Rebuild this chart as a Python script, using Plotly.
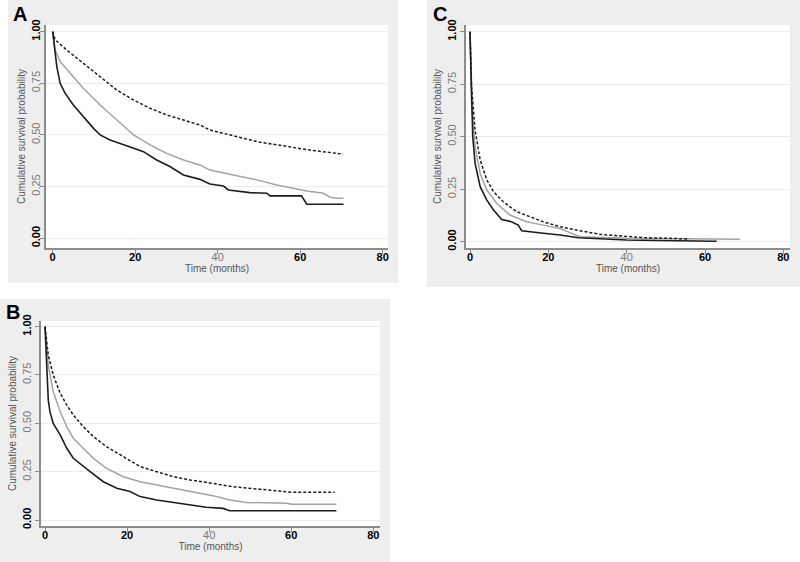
import plotly.graph_objects as go

# Panel A: Kaplan-Meier curves (time in months, cumulative survival)
a_time_black = [0, 0.3, 0.6, 1, 1.8, 3, 5, 7.4, 9.9, 11.5, 13.9, 16.7, 19.6, 22, 25.2, 28.4,
                31.7, 35.7, 38.1, 41.4, 42.6, 47.8, 51.9, 52.7, 60.3, 61.6, 70.5]
a_surv_black = [1.0, 0.95, 0.895, 0.831, 0.75, 0.702, 0.645, 0.589, 0.532, 0.5, 0.476, 0.456,
                0.435, 0.419, 0.379, 0.347, 0.306, 0.285, 0.263, 0.253, 0.234, 0.221, 0.218,
                0.205, 0.205, 0.165, 0.165]
a_time_gray = [0, 0.3, 0.6, 1.8, 4.2, 7.4, 11.5, 15.5, 19.6, 23.6, 27.6, 31.7, 35.7, 38.1,
               42.2, 46.2, 50.3, 54.3, 58.4, 61.6, 65.6, 67.3, 68.9, 70.5]
a_surv_gray = [1.0, 0.95, 0.911, 0.855, 0.798, 0.726, 0.645, 0.573, 0.5, 0.452, 0.411, 0.379,
               0.355, 0.33, 0.314, 0.298, 0.279, 0.258, 0.242, 0.229, 0.218, 0.199, 0.194, 0.194]
a_time_dash = [0, 0.6, 3.4, 7.4, 11.5, 15.5, 19.6, 23.6, 27.6, 31.7, 35.7, 38.1, 40.6, 46.2,
               50, 54.3, 58, 62.3, 66, 70.4]
a_surv_dash = [1.0, 0.96, 0.911, 0.847, 0.782, 0.718, 0.669, 0.629, 0.597, 0.573, 0.548, 0.524,
               0.511, 0.484, 0.466, 0.452, 0.44, 0.427, 0.418, 0.407]

# Panel B
b_time_black = [0, 0.4, 0.8, 1.2, 2, 3.7, 5.3, 6.9, 9.3, 11, 14.2, 17.5, 20.7, 23.2, 27.2,
                31.3, 35.3, 37.8, 39.3, 43.4, 45, 71]
b_surv_black = [1.0, 0.82, 0.62, 0.56, 0.5, 0.44, 0.371, 0.319, 0.276, 0.25, 0.198, 0.164,
                0.147, 0.121, 0.103, 0.09, 0.078, 0.072, 0.066, 0.06, 0.048, 0.048]
b_time_gray = [0, 0.4, 0.8, 2, 3.7, 5.3, 6.9, 9.3, 11.8, 15, 19.1, 23.2, 27.2, 31.3, 35.3,
               37.7, 41.8, 45, 49.1, 58.8, 60.1, 71]
b_surv_gray = [1.0, 0.88, 0.80, 0.664, 0.56, 0.483, 0.422, 0.371, 0.319, 0.267, 0.224, 0.198,
               0.181, 0.164, 0.15, 0.138, 0.121, 0.103, 0.091, 0.086, 0.081, 0.081]
b_time_dash = [0, 0.8, 2, 3.7, 5.3, 6.9, 9.3, 11.8, 15, 19.1, 23.2, 27.2, 31.3, 35.3, 37.7,
               41.8, 45.8, 49.9, 54, 59.7, 60.5, 70.6]
b_surv_dash = [1.0, 0.853, 0.75, 0.655, 0.595, 0.543, 0.483, 0.431, 0.379, 0.328, 0.276, 0.25,
               0.224, 0.207, 0.198, 0.186, 0.172, 0.164, 0.159, 0.147, 0.143, 0.143]

# Panel C
c_time_black = [0, 0.3, 0.7, 1.3, 2.6, 4.3, 6, 8.1, 10.6, 12.3, 13.2, 18.7, 23, 27.7, 33.9,
                40, 48, 55, 60, 63]
c_surv_black = [1.0, 0.75, 0.5, 0.373, 0.262, 0.198, 0.151, 0.106, 0.095, 0.079, 0.052, 0.04,
                0.032, 0.019, 0.014, 0.008, 0.006, 0.004, 0.003, 0.002]
c_time_gray = [0, 0.4, 1.3, 2.6, 4.3, 6.8, 10.2, 14.5, 18.7, 23, 25.5, 28.1, 40, 55, 68.9]
c_surv_gray = [1.0, 0.659, 0.452, 0.325, 0.246, 0.183, 0.127, 0.095, 0.079, 0.063, 0.043,
               0.024, 0.016, 0.013, 0.012]
c_time_dash = [0, 0.4, 1.3, 2.6, 4.3, 6, 8.5, 11.9, 15.3, 18.7, 23, 26.4, 28.1, 33.2, 44.3,
               50.9, 56]
c_surv_dash = [1.0, 0.738, 0.532, 0.389, 0.294, 0.238, 0.19, 0.143, 0.119, 0.095, 0.071,
               0.056, 0.052, 0.035, 0.019, 0.016, 0.013]

x_ticks = [0, 20, 40, 60, 80]
x_tick_labels = ["<b>0</b>", "<b>20</b>", "<span style='color:#7a7a7a'>40</span>",
                 "<b>60</b>", "<b>80</b>"]
y_ticks = [0, 0.25, 0.5, 0.75, 1.0]
y_tick_labels = ["<b>0.00</b>", "<span style='color:#7a7a7a'>0.25</span>",
                 "<span style='color:#7a7a7a'>0.50</span>",
                 "<span style='color:#7a7a7a'>0.75</span>", "<b>1.00</b>"]
panel_labels = ["A", "B", "C"]

W, H = 800, 562
FONT = "Liberation Sans, Arial, sans-serif"
AXIS_GRAY = "#8c8c8c"


def px(x):
    return x / W


def py(y):
    return 1 - y / H


def x_axis(domain, rng, anchor):
    return dict(domain=domain, range=rng, anchor=anchor, tickvals=x_ticks, ticktext=x_tick_labels,
                automargin=False, showline=True, linecolor=AXIS_GRAY, linewidth=1.5,
                ticks="outside", ticklen=4, tickcolor=AXIS_GRAY, showgrid=False, zeroline=False,
                ticklabelstandoff=-6,
                tickfont=dict(family=FONT, size=11, color="black"),
                title=dict(text="Time (months)", font=dict(family=FONT, size=10, color="#555555"),
                           standoff=1))


def y_axis(domain, rng, anchor, label_shift):
    return dict(domain=domain, range=rng, anchor=anchor, tickvals=y_ticks, ticktext=y_tick_labels,
                automargin=False, tickangle=-90, showline=True, linecolor=AXIS_GRAY, linewidth=1.5,
                ticks="outside", ticklen=4, tickcolor=AXIS_GRAY, showgrid=True,
                gridcolor="#ececec", gridwidth=1, zeroline=False,
                ticklabelstandoff=label_shift,
                tickfont=dict(family=FONT, size=11, color="black"),
                title=dict(text="Cumulative survival probability",
                           font=dict(family=FONT, size=10, color="#555555"), standoff=2))


fig = go.Figure()

panels = [
    ("x", "y", a_time_gray, a_surv_gray, a_time_black, a_surv_black, a_time_dash, a_surv_dash),
    ("x3", "y3", b_time_gray, b_surv_gray, b_time_black, b_surv_black, b_time_dash, b_surv_dash),
    ("x2", "y2", c_time_gray, c_surv_gray, c_time_black, c_surv_black, c_time_dash, c_surv_dash),
]
for xa, ya, tg, sg, tb, sb, td, sd in panels:
    fig.add_trace(go.Scatter(x=tg, y=sg, mode="lines", xaxis=xa, yaxis=ya, showlegend=False,
                             line=dict(color="#a3a3a3", width=1.5)))
    fig.add_trace(go.Scatter(x=tb, y=sb, mode="lines", xaxis=xa, yaxis=ya, showlegend=False,
                             line=dict(color="#1c1c1c", width=1.6)))
    fig.add_trace(go.Scatter(x=td, y=sd, mode="lines", xaxis=xa, yaxis=ya, showlegend=False,
                             line=dict(color="#1c1c1c", width=1.5, dash="3px,2px")))

# light gray panel backgrounds, then white plot regions on top of them
panel_boxes = [(8, 0, 398, 283), (427, 0, 800, 287), (0, 299, 390, 562)]
plot_boxes = [(46, 25, 388, 248), (466, 25, 790, 248), (41, 321, 380, 526)]
shapes = []
for boxes, fill in [(panel_boxes, "#eeeeee"), (plot_boxes, "white")]:
    for x0, y0, x1, y1 in boxes:
        shapes.append(dict(type="rect", xref="paper", yref="paper", x0=px(x0), x1=px(x1),
                           y0=py(y1), y1=py(y0), fillcolor=fill, line=dict(width=0),
                           layer="below"))

annotations = []
for label, lx, ly in zip(panel_labels, [11, 4, 431], [1, 299, 1]):
    annotations.append(dict(text="<b>%s</b>" % label, xref="paper", yref="paper", x=px(lx),
                            y=py(ly), xanchor="left", yanchor="top", showarrow=False,
                            font=dict(family=FONT, size=20, color="black")))

fig.update_layout(
    width=W, height=H,
    margin=dict(l=0, r=0, t=0, b=0, autoexpand=False),
    paper_bgcolor="white", plot_bgcolor="white",
    xaxis=x_axis([px(46), px(388)], [-1.62, 81.28], "y"),
    yaxis=y_axis([py(248), py(25)], [-0.047, 1.032], "x", -4),
    xaxis2=x_axis([px(466), px(790)], [-1.02, 81.7], "y2"),
    yaxis2=y_axis([py(248), py(25)], [-0.03, 1.032], "x2", 0),
    xaxis3=x_axis([px(41), px(380)], [-0.975, 81.63], "y3"),
    yaxis3=y_axis([py(526), py(321)], [-0.031, 1.029], "x3", 0),
    shapes=shapes,
    annotations=annotations,
)

# drop the browser's default body margin so the 800x562 figure fills the window
fig.write_html("out.html", config={"displayModeBar": False},
               post_script="document.body.style.margin = '0px';")
